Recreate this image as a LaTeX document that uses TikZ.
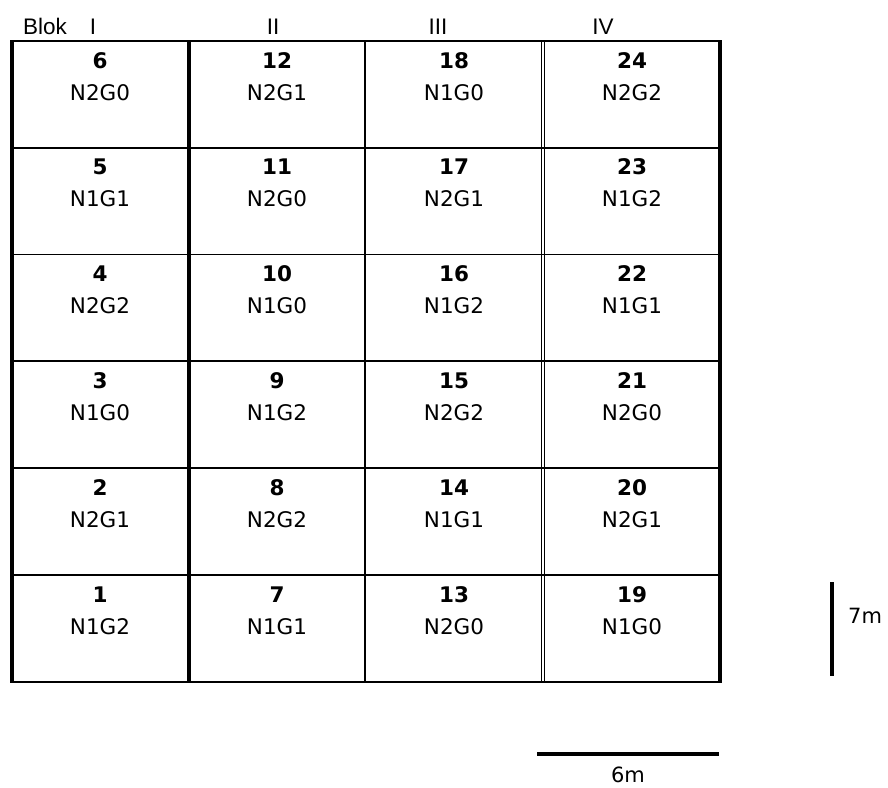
\documentclass[tikz,border=0pt]{standalone}
\usepackage{fontspec}
\setmainfont{DejaVu Sans}
\newfontfamily\headfont{Liberation Sans}
\begin{document}
\begin{tikzpicture}[x=1pt,y=-1pt,
  numtxt/.style={anchor=base,inner sep=0pt,font=\fontsize{21.5}{24}\selectfont\bfseries},
  labtxt/.style={anchor=base,inner sep=0pt,font=\fontsize{21.5}{24}\selectfont},
  headtxt/.style={anchor=base,inner sep=0pt,font=\headfont\fontsize{22.5}{25}\selectfont},
  scaletxt/.style={anchor=base,inner sep=0pt,font=\fontsize{21}{24}\selectfont},
  thinline/.style={line width=1.2pt},
  barline/.style={line width=4.5pt}]
\useasboundingbox (0,0) rectangle (888,787);
% header
\node[headtxt] (blok) at (45,34) {Blok};
\node[headtxt] (h1) at (93,34) {I};
\node[headtxt] (h2) at (273,34) {II};
\node[headtxt] (h3) at (438,34) {III};
\node[headtxt] (h4) at (603,34) {IV};
% horizontal lines
\foreach \y in {148,254.5,361,468,575} \draw[thinline] (12,\y) -- (720,\y);
\draw[line width=2.2pt] (12,41) -- (720,41);
\draw[line width=2.5pt] (12,682) -- (720,682);
% vertical lines
\draw[line width=4pt] (12,40) -- (12,683);
\draw[line width=3.5pt] (189,40) -- (189,683);
\draw[line width=2.6pt] (365,40) -- (365,683);
\draw[line width=1.1pt] (541.8,40.5) -- (541.8,682.5);
\draw[line width=1.1pt] (544.8,40.5) -- (544.8,682.5);
\draw[line width=4pt] (720,40) -- (720,683.2);
% cells: plot numbers
\foreach \col/\cx in {0/100,1/277,2/454,3/632}{
  \foreach \row in {0,...,5}{
    \pgfmathtruncatemacro{\num}{6*\col+6-\row}
    \pgfmathsetmacro{\ty}{41+106.8*\row}
    \node[numtxt] (c\num) at (\cx,\ty+27) {\num};
  }
}
% cells: treatments
\foreach \num/\cx/\row/\lab in {
  6/100/0/N2G0,5/100/1/N1G1,4/100/2/N2G2,3/100/3/N1G0,2/100/4/N2G1,1/100/5/N1G2,
  12/277/0/N2G1,11/277/1/N2G0,10/277/2/N1G0,9/277/3/N1G2,8/277/4/N2G2,7/277/5/N1G1,
  18/454/0/N1G0,17/454/1/N2G1,16/454/2/N1G2,15/454/3/N2G2,14/454/4/N1G1,13/454/5/N2G0,
  24/632/0/N2G2,23/632/1/N1G2,22/632/2/N1G1,21/632/3/N2G0,20/632/4/N2G1,19/632/5/N1G0}{
  \pgfmathsetmacro{\ty}{41+106.8*\row}
  \node[labtxt] (l\num) at (\cx,\ty+59) {\lab};
}
% scale bars
\coordinate (vb1) at (832,582);
\coordinate (vb2) at (832,676);
\draw[barline] (vb1) -- (vb2);
\node[scaletxt,anchor=base west] (seven) at (848,623) {7m};
\coordinate (hb1) at (537,754);
\coordinate (hb2) at (719,754);
\draw[barline] (hb1) -- (hb2);
\node[scaletxt] (six) at (628,782) {6m};
\end{tikzpicture}
\end{document}
